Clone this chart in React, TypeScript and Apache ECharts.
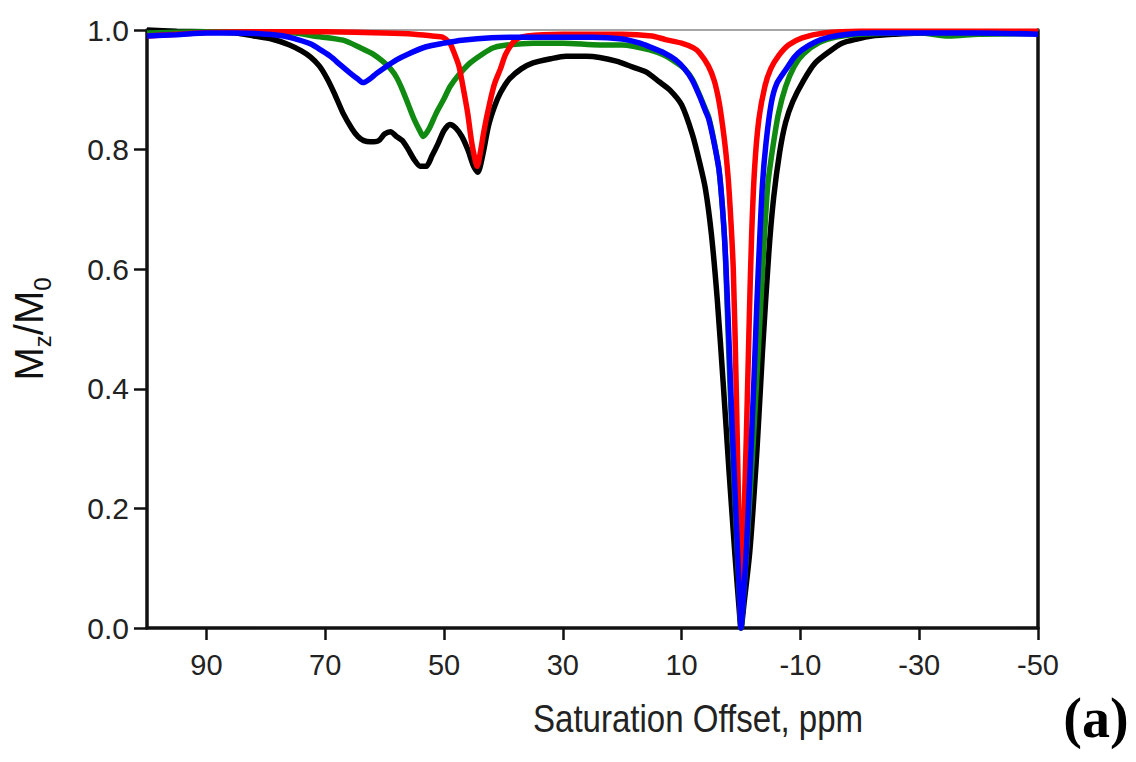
import React, { useEffect, useRef } from "react";
import * as echarts from "echarts";

// x-axis tick values (ppm)
const xTicks = [90, 70, 50, 30, 10, -10, -30, -50];

// Black curve
const blackPpm = [100, 95, 90, 85, 82, 79, 76, 74, 72.5, 71, 69.8, 68.5, 67, 65.5, 64.5, 63.5, 62.4, 61, 60, 59, 58, 57, 56, 55, 54, 53, 52, 51, 50, 49, 48, 47, 46, 45, 44.3, 43.5, 42.5, 41.5, 40.5, 39, 37, 35, 32, 29.5, 26, 23.8, 21, 18.2, 16, 13.7, 12, 10, 8.2, 7, 6, 5, 4, 3, 2, 1, 0.3, 0, -0.5, -1.5, -2.7, -3.6, -4.7, -5.5, -6.5, -7.5, -8.7, -10.5, -12.5, -15, -17, -19.5, -22, -26, -30, -40, -50];
const blackVal = [1.0, 0.998, 0.997, 0.995, 0.99, 0.985, 0.975, 0.965, 0.955, 0.94, 0.921, 0.895, 0.861, 0.835, 0.822, 0.815, 0.813, 0.815, 0.826, 0.83, 0.822, 0.815, 0.8, 0.783, 0.772, 0.772, 0.79, 0.81, 0.832, 0.842, 0.836, 0.822, 0.8, 0.772, 0.762, 0.79, 0.84, 0.872, 0.895, 0.918, 0.935, 0.945, 0.952, 0.956, 0.956, 0.954, 0.948, 0.938, 0.93, 0.913, 0.9, 0.875, 0.826, 0.78, 0.735, 0.66, 0.55, 0.41, 0.26, 0.12, 0.03, 0.0, 0.04, 0.13, 0.3, 0.46, 0.63, 0.72, 0.795, 0.845, 0.88, 0.915, 0.945, 0.965, 0.978, 0.985, 0.99, 0.993, 0.995, 0.997, 0.997];

// Green curve
const greenPpm = [100, 90, 80, 75, 72, 67, 64, 62, 60, 59, 58, 57, 56, 55, 54, 53.5, 52.5, 51.3, 50, 49, 47.5, 45.6, 43.5, 41.8, 40, 35, 30, 23.8, 20, 15.4, 13, 11, 9.5, 8.2, 7, 6, 5.4, 4.5, 3.7, 3.1, 2.7, 2.3, 1.6, 0.8, 0.2, 0, -0.4, -1, -2, -3, -3.8, -4.5, -5.3, -6.3, -7.5, -9, -10.5, -13, -16, -20, -30, -35, -40, -50];
const greenVal = [0.995, 0.997, 0.997, 0.995, 0.99, 0.983, 0.97, 0.96, 0.945, 0.935, 0.921, 0.9, 0.875, 0.85, 0.83, 0.822, 0.835, 0.861, 0.885, 0.905, 0.925, 0.945, 0.96, 0.97, 0.974, 0.978, 0.978, 0.975, 0.975, 0.967, 0.958, 0.946, 0.935, 0.918, 0.892, 0.868, 0.853, 0.812, 0.766, 0.7, 0.64, 0.53, 0.34, 0.17, 0.04, 0.0, 0.05, 0.14, 0.3, 0.48, 0.63, 0.74, 0.8, 0.86, 0.905, 0.94, 0.96, 0.978, 0.988, 0.993, 0.995, 0.99, 0.993, 0.994];

// Red curve
const redPpm = [100, 95, 90, 80, 70, 60, 55, 52, 50.2, 49, 48.5, 47.5, 46.8, 46, 45.3, 44.4, 43.8, 43.3, 42.3, 41.5, 40.5, 39.6, 38, 36, 30, 20, 15, 12.7, 10, 8, 7, 5.5, 4.5, 3.7, 3.1, 2.5, 2, 1.3, 0.8, 0.3, 0, -0.4, -0.9, -1.4, -1.8, -2.3, -3, -4, -5, -6.4, -8, -10.3, -14, -20, -30, -50];
const redVal = [0.99, 0.993, 0.996, 0.997, 0.997, 0.995, 0.993, 0.99, 0.988, 0.978, 0.967, 0.94, 0.905, 0.86, 0.81, 0.772, 0.8, 0.83, 0.878, 0.91, 0.935, 0.96, 0.983, 0.99, 0.993, 0.993, 0.99, 0.984, 0.978, 0.97, 0.962, 0.94, 0.915, 0.88, 0.84, 0.79, 0.73, 0.6, 0.4, 0.15, 0.01, 0.15, 0.32, 0.52, 0.66, 0.77, 0.85, 0.905, 0.935, 0.958, 0.975, 0.987, 0.995, 0.998, 0.998, 0.998];

// Blue curve
const bluePpm = [100, 95, 90, 85, 80, 77, 75, 72.5, 70.5, 69, 67.5, 65.8, 64.5, 63.6, 62.5, 61.4, 60, 58, 56, 53, 50, 47, 42, 35, 25, 20, 17, 15.4, 13, 11, 9.5, 8.2, 7, 6, 5.4, 4.5, 3.7, 3.1, 2.6, 2.1, 1.5, 0.8, 0.2, 0, -0.4, -0.9, -1.6, -2.2, -2.7, -3.1, -3.6, -4.2, -5.1, -6, -7.5, -9, -10.3, -12.5, -14.9, -18, -22, -30, -40, -50];
const blueVal = [0.99, 0.992, 0.995, 0.995, 0.993, 0.99, 0.985, 0.977, 0.965, 0.955, 0.942, 0.928, 0.918, 0.912, 0.918, 0.927, 0.937, 0.95, 0.96, 0.972, 0.978, 0.983, 0.987, 0.988, 0.988, 0.985, 0.978, 0.972, 0.962, 0.95, 0.935, 0.916, 0.89, 0.865, 0.85, 0.81, 0.766, 0.7, 0.62, 0.5, 0.34, 0.18, 0.04, 0.0, 0.05, 0.13, 0.28, 0.42, 0.55, 0.64, 0.74, 0.81, 0.878, 0.91, 0.933, 0.955, 0.967, 0.98, 0.988, 0.993, 0.995, 0.995, 0.995, 0.993];

const zip = (xs: number[], ys: number[]) => xs.map((x, i) => [x, ys[i]]);

const SANS = '"Liberation Sans", Arial, Helvetica, sans-serif';

export default function App() {
  const ref = useRef<HTMLDivElement>(null);
  useEffect(() => {
    if (!ref.current) return;
    const chart = echarts.init(ref.current, null, { renderer: "svg" });
    const line = (name: string, color: string, xs: number[], ys: number[], z: number) => ({
      name,
      type: "line",
      data: zip(xs, ys),
      showSymbol: false,
      smooth: 0.25,
      clip: false,
      z,
      lineStyle: { color, width: 5.5 },
      itemStyle: { color },
    });
    chart.setOption({
      animation: false,
      backgroundColor: "#ffffff",
      grid: { left: 147, right: 98, top: 30, bottom: 134 },
      xAxis: [
        {
          type: "value",
          inverse: true,
          min: -50,
          max: 100,
          splitLine: { show: false },
          axisLine: { show: true, onZero: false, lineStyle: { color: "#111", width: 3.5 } },
          axisTick: { show: true, inside: false, length: 12, customValues: xTicks, lineStyle: { color: "#111", width: 2.5 } },
          axisLabel: {
            customValues: xTicks,
            margin: 22,
            fontSize: 29,
            color: "#222",
            fontFamily: SANS,
          },
        },
        {
          type: "value",
          position: "top",
          inverse: true,
          min: -50,
          max: 100,
          splitLine: { show: false },
          axisLine: { show: true, onZero: false, lineStyle: { color: "#888", width: 1.5 } },
          axisTick: { show: false },
          axisLabel: { show: false },
        },
      ],
      yAxis: [
        {
          type: "value",
          min: 0,
          max: 1,
          interval: 0.2,
          splitLine: { show: false },
          axisLine: { show: true, onZero: false, lineStyle: { color: "#111", width: 3.5 } },
          axisTick: { show: true, inside: false, length: 13, lineStyle: { color: "#111", width: 2.5 } },
          axisLabel: {
            margin: 18,
            fontSize: 30,
            color: "#222",
            fontFamily: SANS,
            formatter: (v: number) => v.toFixed(1),
          },
          name: "{m|M}{s|z}{m|/M}{s|0}",
          nameLocation: "middle",
          nameRotate: 90,
          nameGap: 93,
          nameTextStyle: {
            fontFamily: SANS,
            color: "#111",
            rich: {
              m: { fontSize: 40, fontFamily: SANS, color: "#111", lineHeight: 50, verticalAlign: "middle" },
              s: { fontSize: 24, fontFamily: SANS, color: "#111", lineHeight: 50, verticalAlign: "bottom", padding: [18, 0, 0, 0] },
            },
          },
        },
        {
          type: "value",
          position: "right",
          min: 0,
          max: 1,
          interval: 0.2,
          splitLine: { show: false },
          axisLine: { show: true, onZero: false, lineStyle: { color: "#111", width: 3.5 } },
          axisTick: { show: false },
          axisLabel: { show: false },
        },
      ],
      graphic: [
        {
          type: "text",
          x: 698,
          y: 719,
          scaleX: 0.87,
          style: {
            text: "Saturation Offset, ppm",
            fontFamily: SANS,
            fontSize: 38,
            fill: "#222",
            textAlign: "center",
            textVerticalAlign: "middle",
          },
        },
        {
          type: "text",
          x: 1096,
          y: 718,
          style: {
            text: "(a)",
            fontFamily: '"Liberation Serif", "Times New Roman", serif',
            fontWeight: "bold",
            fontSize: 56,
            fill: "#000",
            textAlign: "center",
            textVerticalAlign: "middle",
          },
        },
      ],
      series: [
        line("black", "#000000", blackPpm, blackVal, 2),
        line("green", "#118a11", greenPpm, greenVal, 3),
        line("red", "#ff0000", redPpm, redVal, 4),
        line("blue", "#0000ff", bluePpm, blueVal, 5),
      ],
    });
    return () => chart.dispose();
  }, []);
  return (
    <div
      ref={ref}
      style={{ position: "absolute", left: 0, top: 0, width: 1136, height: 762 }}
    />
  );
}
